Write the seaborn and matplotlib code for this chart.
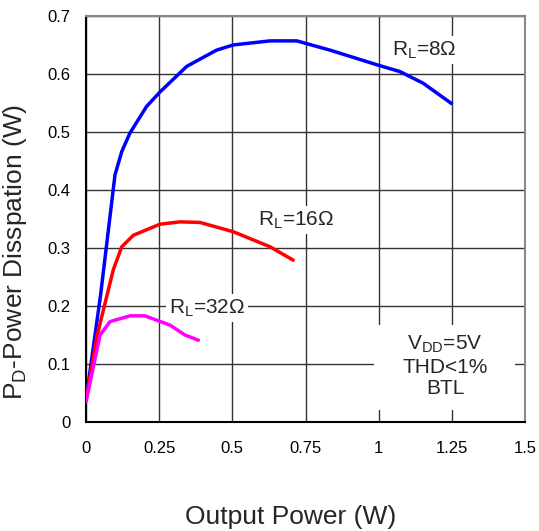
import pandas as pd
import matplotlib.pyplot as plt
import seaborn as sb
from matplotlib.patches import Rectangle

# curves
x_8 = [0, 0.05, 0.099, 0.122, 0.150, 0.207, 0.253, 0.344, 0.446, 0.503, 0.629, 0.720, 0.834, 0.999, 1.073, 1.152, 1.249]
y_8 = [0.038, 0.22, 0.426, 0.466, 0.498, 0.544, 0.569, 0.613, 0.641, 0.650, 0.657, 0.657, 0.641, 0.615, 0.604, 0.584, 0.549]

x_16 = [0, 0.037, 0.093, 0.122, 0.162, 0.253, 0.321, 0.389, 0.503, 0.629, 0.708]
y_16 = [0.038, 0.147, 0.262, 0.302, 0.322, 0.341, 0.345, 0.344, 0.328, 0.302, 0.279]

x_32 = [0, 0.048, 0.082, 0.150, 0.201, 0.287, 0.338, 0.384]
y_32 = [0.035, 0.150, 0.173, 0.183, 0.183, 0.167, 0.150, 0.141]

x_ticks = [0, 0.25, 0.5, 0.75, 1, 1.25, 1.5]
x_tick_labels = ["0", "0.25", "0.5", "0.75", "1", "1.25", "1.5"]
y_ticks = [0, 0.1, 0.2, 0.3, 0.4, 0.5, 0.6, 0.7]
y_tick_labels = ["0", "0.1", "0.2", "0.3", "0.4", "0.5", "0.6", "0.7"]

sb.set_style("white")
plt.rcParams['font.family'] = ['Liberation Sans', 'DejaVu Sans']
plt.rcParams['mathtext.fontset'] = 'custom'
plt.rcParams['mathtext.rm'] = 'Liberation Sans'

fig = plt.figure(figsize=(5.39, 5.31), dpi=100)
ax = fig.add_axes([0.1596, 0.2053, 0.8144, 0.7647])

df8 = pd.DataFrame({'x': x_8, 'y': y_8})
df16 = pd.DataFrame({'x': x_16, 'y': y_16})
df32 = pd.DataFrame({'x': x_32, 'y': y_32})

sb.lineplot(x='x', y='y', data=df8, color='#0000ff', linewidth=2.5, estimator=None, ax=ax, zorder=4)
sb.lineplot(x='x', y='y', data=df16, color='#ff0000', linewidth=2.5, estimator=None, ax=ax, zorder=4)
sb.lineplot(x='x', y='y', data=df32, color='#ff00ff', linewidth=2.5, estimator=None, ax=ax, zorder=5)

ax.set_xlim(0, 1.5)
ax.set_ylim(0, 0.7)
ax.set_xticks(x_ticks)
ax.set_xticklabels(x_tick_labels)
ax.set_yticks(y_ticks)
ax.set_yticklabels(y_tick_labels)
ax.tick_params(axis='x', length=0, pad=14, labelsize=12, colors='black')
ax.tick_params(axis='y', length=0, pad=11, labelsize=12, colors='black')
ax.grid(True, color='#333333', linewidth=1.0)
ax.set_axisbelow(True)

for s in ['top', 'right']:
    ax.spines[s].set_color('#888888')
    ax.spines[s].set_linewidth(1.5)
for s in ['left', 'bottom']:
    ax.spines[s].set_color('black')
    ax.spines[s].set_linewidth(1.5)

ax.set_xlabel("Output Power (W)", fontsize=19)
ax.set_ylabel("P$_\\mathregular{D}$-Power Disspation (W)", fontsize=19)
ax.xaxis.set_label_coords(0.465, -0.205)
ax.yaxis.set_label_coords(-0.13, 0.42)

box = dict(facecolor='white', edgecolor='none', boxstyle='square,pad=0.15')
ax.text(1.155, 0.641, "R$_\\mathregular{L}$=8Ω", fontsize=15, ha='center', va='center', bbox=box, zorder=3)
ax.text(0.717, 0.348, "R$_\\mathregular{L}$=16Ω", fontsize=15, ha='center', va='center', bbox=box, zorder=3)
ax.text(0.413, 0.197, "R$_\\mathregular{L}$=32Ω", fontsize=15, ha='center', va='center', bbox=box, zorder=3)

ax.add_patch(Rectangle((0.985, 0.02), 0.48, 0.147, facecolor='white', edgecolor='none', zorder=2))
ax.text(1.227, 0.097, "V$_\\mathregular{DD}$=5V\nTHD<1%\nBTL", fontsize=15, ha='center', va='center',
        linespacing=1.15, zorder=3)

plt.savefig("out.png", dpi=100)
